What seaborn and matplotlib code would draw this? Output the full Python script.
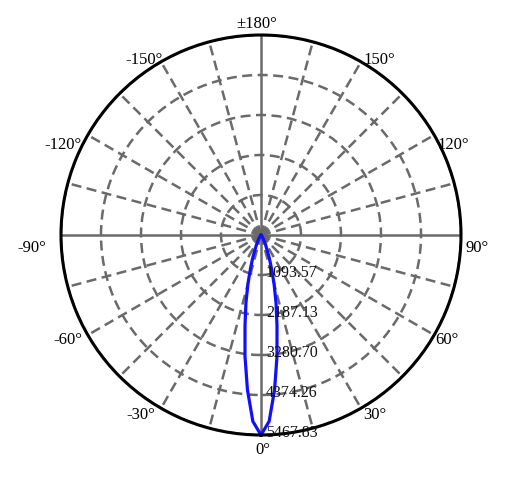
import numpy as np
import pandas as pd
import seaborn as sns
import matplotlib.pyplot as plt
import matplotlib.transforms as mtransforms

# leitura aproximada da curva fotometrica (graus, cd)
angulos = [-90, -60, -50, -40, -35, -30, -25, -20, -17.5, -15, -12.5, -10, -7.5, -5, -2.5,
           0, 2.5, 5, 7.5, 10, 12.5, 15, 17.5, 20, 25, 30, 35, 40, 50, 60, 90]
intensidade = [0, 5, 10, 30, 60, 130, 300, 650, 950, 1380, 1900, 2520, 3350, 4250, 5100,
               5467.83, 5100, 4250, 3350, 2520, 1900, 1380, 950, 650, 300, 130, 60, 30, 10, 5, 0]

r_ticks = [1093.57, 2187.13, 3280.70, 4374.26, 5467.83]
theta_ticks = list(range(0, 360, 15))
label_angles = [0, 30, 60, 90, 120, 150, 180, 210, 240, 270, 300, 330]
label_texts = ["0°", "30°", "60°", "90°", "120°", "150°", "±180°",
               "-150°", "-120°", "-90°", "-60°", "-30°"]

# posicao de cada rotulo angular: (ha, va, dx px, dy px)
label_pos = {
    0: ("center", "top", 2, -6),
    30: ("left", "top", 2, 2),
    60: ("left", "top", 1, 4),
    90: ("left", "top", 5, -4),
    120: ("left", "top", 3, -1),
    150: ("left", "bottom", 2, -5),
    180: ("center", "bottom", -4, 3.5),
    210: ("right", "bottom", 2, -5),
    240: ("right", "top", -6, -1),
    270: ("right", "top", -15, -4),
    300: ("right", "top", -5, 4),
    330: ("right", "top", -6, 2),
}

df = pd.DataFrame({"theta": np.deg2rad(angulos), "cd": intensidade})

sns.set_theme(style="white")
plt.rcParams["font.family"] = ["Liberation Serif", "DejaVu Serif"]

fig = plt.figure(figsize=(5.16, 4.81), dpi=100)
ax = fig.add_axes([61 / 516, 45 / 481, 400 / 516, 400 / 481], projection="polar")
ax.set_theta_zero_location("S")
ax.set_theta_direction(1)

ax.set_ylim(0, r_ticks[-1])
ax.set_yticks(r_ticks)
ax.set_yticklabels([])
ax.set_thetagrids(theta_ticks, [""] * len(theta_ticks))

ax.grid(True, color="#6a6a6a", lw=1.8, ls=(0, (4, 2.2)))
for i, gl in enumerate(ax.xaxis.get_gridlines()):
    if theta_ticks[i] % 90 == 0:
        gl.set_linestyle("-")
ax.spines["polar"].set_color("black")
ax.spines["polar"].set_linewidth(2.2)

sns.lineplot(data=df, x="theta", y="cd", sort=False, color="#1010ff", lw=2.3, ax=ax, legend=False)
ax.set_xlabel("")
ax.set_ylabel("")

# rotulos angulares presos ao circulo externo
rmax = r_ticks[-1]
for ang, txt in zip(label_angles, label_texts):
    ha, va, dx, dy = label_pos[ang]
    tr = mtransforms.offset_copy(ax.transData, fig=fig, x=dx, y=dy, units="dots")
    ax.text(np.deg2rad(ang), rmax, txt, transform=tr, ha=ha, va=va, fontsize=12, color="black")

off = mtransforms.offset_copy(ax.transData, fig=fig, x=5, y=3, units="dots")
for r in r_ticks:
    ax.text(0, r, f"{r:.2f}", transform=off, ha="left", va="center", fontsize=11.5, color="#111111")

fig.savefig("out.png", dpi=100)
